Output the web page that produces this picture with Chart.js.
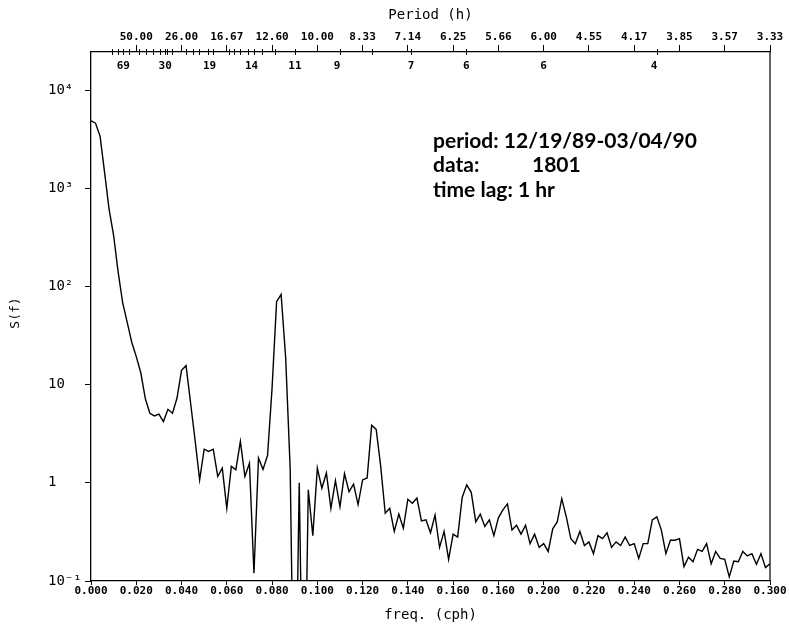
<!DOCTYPE html>
<html><head><meta charset="utf-8">
<script src="https://cdn.jsdelivr.net/npm/chart.js@4.4.0/dist/chart.umd.min.js"></script>
<style>html,body{margin:0;padding:0;background:#fff;}#wrap{width:789px;height:624px;position:relative;}</style>
</head><body><div id="wrap"><canvas id="c" width="789" height="624"></canvas></div>
<script>
// ---- data ----
const freqStep = 0.002; // cph between spectral estimates
const spectrum = [
  4860, 4600, 3400, 1450, 610, 330, 140, 68, 43, 27,
  19.3, 13.2, 7.2, 5.1, 4.8, 5.0, 4.2, 5.6, 5.1, 7.3,
  14, 15.6, 6.5, 2.7, 1.07, 2.2, 2.09, 2.2, 1.16, 1.41,
  0.55, 1.47, 1.36, 2.64, 1.16, 1.58, 0.12, 1.79, 1.37, 1.9,
  9.2, 70, 83, 19, 1.4, 0.001, 1.0, 0.001, 0.85, 0.29,
  1.41, 0.88, 1.26, 0.55, 1.05, 0.57, 1.24, 0.81, 0.97, 0.60,
  1.07, 1.12, 3.85, 3.5, 1.47, 0.49, 0.55, 0.32, 0.48, 0.345,
  0.68, 0.62, 0.70, 0.41, 0.42, 0.31, 0.47, 0.22, 0.32, 0.166,
  0.30, 0.28, 0.71, 0.955, 0.80, 0.40, 0.48, 0.36, 0.42, 0.29,
  0.44, 0.53, 0.61, 0.33, 0.37, 0.30, 0.37, 0.24, 0.30, 0.22,
  0.24, 0.20, 0.34, 0.40, 0.69, 0.45, 0.27, 0.24, 0.32, 0.23,
  0.25, 0.19, 0.29, 0.27, 0.31, 0.22, 0.25, 0.23, 0.28, 0.23,
  0.24, 0.17, 0.24, 0.24, 0.42, 0.45, 0.33, 0.19, 0.26, 0.26,
  0.27, 0.14, 0.175, 0.157, 0.21, 0.20, 0.24, 0.15, 0.20, 0.17,
  0.166, 0.11, 0.16, 0.157, 0.20, 0.18, 0.19, 0.148, 0.19, 0.137,
  0.15
];
const frequencies = spectrum.map((_, i) => +(i * freqStep).toFixed(3));

const xTickValues = [0, 0.02, 0.04, 0.06, 0.08, 0.10, 0.12, 0.14, 0.16, 0.18, 0.20, 0.22, 0.24, 0.26, 0.28, 0.30];
const xTickLabels = ["0.000","0.020","0.040","0.060","0.080","0.100","0.120","0.140","0.160","0.160","0.200","0.220","0.240","0.260","0.280","0.300"];

const periodTickValues = [0.02, 0.04, 0.06, 0.08, 0.10, 0.12, 0.14, 0.16, 0.18, 0.20, 0.22, 0.24, 0.26, 0.28, 0.30];
const periodTickLabels = ["50.00","26.00","16.67","12.60","10.00","8.33","7.14","6.25","5.66","6.00","4.55","4.17","3.85","3.57","3.33"];
const periodMinorTicks = [106, 83, 70, 59, 47, 41, 36.5, 33, 30.7, 29.6, 27.8, 23.7, 22.2, 20.9, 19.3, 18.6, 16.4, 15.8, 15.2, 14.45, 13.9, 13.2, 12.3, 11.07, 9.1, 8.05, 7.07, 6.03, 4.0];
const periodInnerLabels = ["69","30","19","14","11","9","7","6","6","4"];
const periodInnerLabelPeriods = [70, 30.5, 19.1, 14.1, 11.1, 9.2, 7.07, 6.03, 5.0, 4.02];

const yTickValues = [0.1, 1, 10, 100, 1000, 10000];
const yTickLabels = ["10\u207B\u00B9", "1", "10", "10\u00B2", "10\u00B3", "10\u2074"];

const annotationLines = ["period: 12/19/89-03/04/90", "data:", "time lag: 1 hr"];
const annotationValue = "1801";

// ---- chart ----
const MONO = "'DejaVu Sans Mono', monospace";
const decor = {
  id: 'decor',
  afterDraw(chart) {
    const ctx = chart.ctx, a = chart.chartArea, x2 = chart.scales.x2;
    ctx.save();
    ctx.strokeStyle = '#000'; ctx.fillStyle = '#000';
    ctx.lineWidth = 1.2;
    ctx.beginPath(); ctx.moveTo(a.right, a.top); ctx.lineTo(a.right, a.bottom); ctx.stroke();
    ctx.lineWidth = 1;
    periodMinorTicks.forEach(p => {
      const x = Math.round(x2.getPixelForValue(1 / p)) + 0.5;
      ctx.beginPath(); ctx.moveTo(x, a.top - 3); ctx.lineTo(x, a.top + 3); ctx.stroke();
    });
    ctx.font = "bold 11px " + MONO; ctx.textAlign = 'center'; ctx.textBaseline = 'middle';
    periodInnerLabels.forEach((t, i) => {
      ctx.fillText(t, x2.getPixelForValue(1 / periodInnerLabelPeriods[i]), a.top + 14);
    });
    // y title
    ctx.save();
    ctx.translate(16, 313); ctx.rotate(-Math.PI / 2);
    ctx.font = "13px " + MONO; ctx.fillText("S(f)", 0, 0);
    ctx.restore();
    // annotation
    ctx.font = "bold 21px Lato"; ctx.textAlign = 'left'; ctx.textBaseline = 'alphabetic';
    const bl = [148, 172, 197];
    annotationLines.forEach((t, i) => ctx.fillText(t, 433, bl[i]));
    ctx.fillText(annotationValue, 532, bl[1]);
    ctx.restore();
  }
};

new Chart(document.getElementById('c'), {
  type: 'line',
  data: { datasets: [{
    data: frequencies.map((f, i) => ({ x: f, y: spectrum[i] })),
    borderColor: '#000', borderWidth: 1.4, pointRadius: 0, tension: 0, fill: false
  }] },
  options: {
    responsive: false, animation: false, devicePixelRatio: 1,
    layout: { padding: { left: 48, right: 19, top: 0, bottom: 0 } },
    plugins: { legend: { display: false }, tooltip: { enabled: false } },
    scales: {
      x: {
        type: 'linear', position: 'bottom', min: 0, max: 0.3,
        afterBuildTicks: s => { s.ticks = xTickValues.map(v => ({ value: v })); },
        afterFit: s => { s.height = 43; },
        ticks: { callback: (v, i) => xTickLabels[i], color: '#000', font: { family: MONO, size: 11, weight: 'bold' }, padding: 0, maxRotation: 0, autoSkip: false },
        grid: { drawOnChartArea: false, drawTicks: true, tickLength: 4, color: '#000', lineWidth: 1 },
        border: { display: true, color: '#000', width: 1.3 },
        title: { display: true, text: 'freq. (cph)', color: '#000', font: { family: MONO, size: 14 }, padding: { top: 0, bottom: 0 } }
      },
      x2: {
        type: 'linear', position: 'top', min: 0, max: 0.3,
        afterBuildTicks: s => { s.ticks = periodTickValues.map(v => ({ value: v })); },
        afterFit: s => { s.height = 52; },
        ticks: { callback: (v, i) => periodTickLabels[i], color: '#000', font: { family: MONO, size: 11, weight: 'bold' }, padding: 1, maxRotation: 0, autoSkip: false },
        grid: { drawOnChartArea: false, drawTicks: true, tickLength: 7, color: '#000', lineWidth: 1 },
        border: { display: true, color: '#000', width: 1.3 },
        title: { display: true, text: 'Period (h)', color: '#000', font: { family: MONO, size: 14 }, padding: { top: 7, bottom: 0 } }
      },
      y: {
        type: 'logarithmic', position: 'left', min: 0.1, max: 24400,
        afterBuildTicks: s => { s.ticks = yTickValues.map(v => ({ value: v })); },
        afterFit: s => { s.width = 43; },
        ticks: { callback: (v, i) => yTickLabels[i], color: '#000', font: { family: MONO, size: 14 }, crossAlign: 'far', padding: 4, autoSkip: false },
        grid: { drawOnChartArea: false, drawTicks: true, tickLength: 6, color: '#000', lineWidth: 1 },
        border: { display: true, color: '#000', width: 1.3 }
      }
    }
  },
  plugins: [decor]
});
</script>
</body></html>
